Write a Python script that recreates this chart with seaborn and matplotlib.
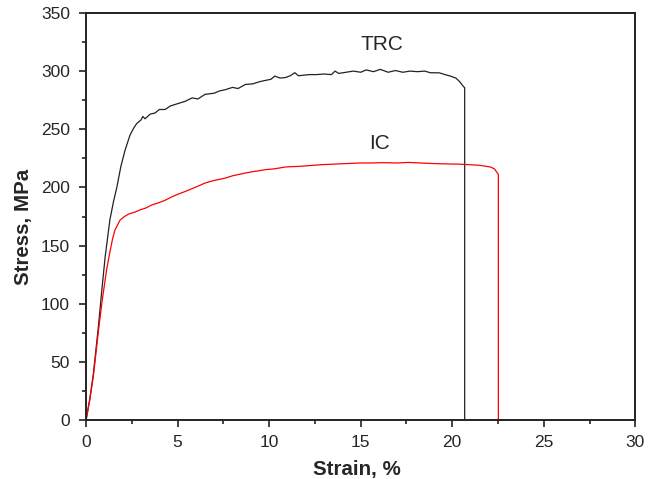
import pandas as pd
import matplotlib
matplotlib.use("Agg")
import matplotlib.pyplot as plt
from matplotlib.ticker import MultipleLocator
import seaborn as sns

# TRC curve (strain %, stress MPa)
trc_strain = [0, 0.2, 0.4, 0.67, 0.85, 1.04, 1.3, 1.5, 1.68, 1.9, 2.13, 2.4, 2.6, 2.77,
              3.0, 3.1, 3.22, 3.5, 3.77, 4.0, 4.32, 4.6, 5.0, 5.41, 5.8, 6.1, 6.5, 7.0,
              7.3, 7.6, 8.0, 8.3, 8.7, 9.1, 9.5, 9.8, 10.1, 10.3, 10.6, 10.9, 11.15, 11.4,
              11.6, 12.2, 12.6, 13.0, 13.4, 13.6, 13.8, 14.2, 14.6, 15.0, 15.3, 15.7,
              16.07, 16.5, 16.9, 17.3, 17.7, 18.1, 18.5, 18.8, 19.3, 19.6, 19.9, 20.2,
              20.4, 20.6, 20.68, 20.68]
trc_stress = [0, 18, 40, 80, 110, 140, 172, 188, 200, 218, 232, 245, 251, 255,
              258, 261, 259, 263, 264, 267, 267, 270, 272, 274, 277, 276, 280, 281,
              283, 284, 286, 285, 288.5, 289, 291, 292, 293, 295.7, 294, 294.5, 296, 298.6,
              296, 297, 297, 297.5, 297, 300, 298, 299, 300, 299, 301, 299.5,
              301.5, 299, 300.5, 299, 300, 299.5, 300, 298.6, 298.5, 297, 295.7, 294,
              291, 287, 285.7, 0]

# IC curve
ic_strain = [0, 0.2, 0.4, 0.7, 0.9, 1.13, 1.31, 1.45, 1.58, 1.86, 2.1, 2.31, 2.7, 3.0,
             3.22, 3.6, 4.0, 4.32, 4.7, 5.0, 5.41, 5.8, 6.1, 6.5, 7.0, 7.3, 7.6, 8.0,
             8.3, 8.7, 9.1, 9.5, 9.8, 10.3, 10.9, 11.5, 12.0, 12.8, 13.5, 14.2, 15.0,
             15.5, 16.2, 17.0, 17.6, 18.25, 19.0, 19.7, 20.4, 21.0, 21.5, 22.08, 22.3,
             22.44, 22.52, 22.52]
ic_stress = [0, 17, 38, 80, 105, 130, 145, 156, 163.5, 172, 175, 177, 179, 181,
             182, 185, 187, 189, 192, 194, 196.5, 199, 201, 203.8, 206, 207, 208, 210,
             211, 212.4, 213.5, 214.5, 215.3, 216, 217.6, 218, 218.5, 219.5, 220, 220.5, 221,
             221, 221.3, 221, 221.5, 221, 220.5, 220.2, 220, 219.5, 219, 217.6, 216,
             213, 211, 0]

trc = pd.DataFrame({"strain": trc_strain, "stress": trc_stress})
ic = pd.DataFrame({"strain": ic_strain, "stress": ic_stress})

sns.set_style("ticks")
plt.rcParams["font.family"] = ["Liberation Sans", "DejaVu Sans"]

fig = plt.figure(figsize=(6.57, 4.79), dpi=100)
ax = fig.add_axes([0.131, 0.123, 0.836, 0.85])

sns.lineplot(data=trc, x="strain", y="stress", sort=False, estimator=None,
             color="#222222", linewidth=0.9, ax=ax)
sns.lineplot(data=ic, x="strain", y="stress", sort=False, estimator=None,
             color="#ff0000", linewidth=0.9, ax=ax)

ax.text(16.15, 323, "TRC", fontsize=15, ha="center", va="center")
ax.text(16.0, 238, "IC", fontsize=15, ha="center", va="center")

ax.set_xlim(0, 30)
ax.set_ylim(0, 350)
ax.xaxis.set_major_locator(MultipleLocator(5))
ax.xaxis.set_minor_locator(MultipleLocator(2.5))
ax.yaxis.set_major_locator(MultipleLocator(50))
ax.yaxis.set_minor_locator(MultipleLocator(25))
ax.tick_params(which="major", direction="out", length=5, width=1.2, labelsize=12.5, color="#222222")
ax.tick_params(which="minor", direction="out", length=3, width=1.2, color="#222222")
ax.tick_params(axis="x", which="major", pad=6)
ax.tick_params(axis="y", which="major", pad=6.5)

for side in ["top", "right", "left", "bottom"]:
    ax.spines[side].set_visible(True)
    ax.spines[side].set_linewidth(1.4)
    ax.spines[side].set_color("#222222")

ax.set_xlabel("Strain, %", fontsize=14.8, fontweight="bold")
ax.set_ylabel("Stress, MPa", fontsize=14.8, fontweight="bold")
ax.xaxis.set_label_coords(0.493, -0.098)
ax.yaxis.set_label_coords(-0.097, 0.474)

fig.savefig("out.png", dpi=100)
